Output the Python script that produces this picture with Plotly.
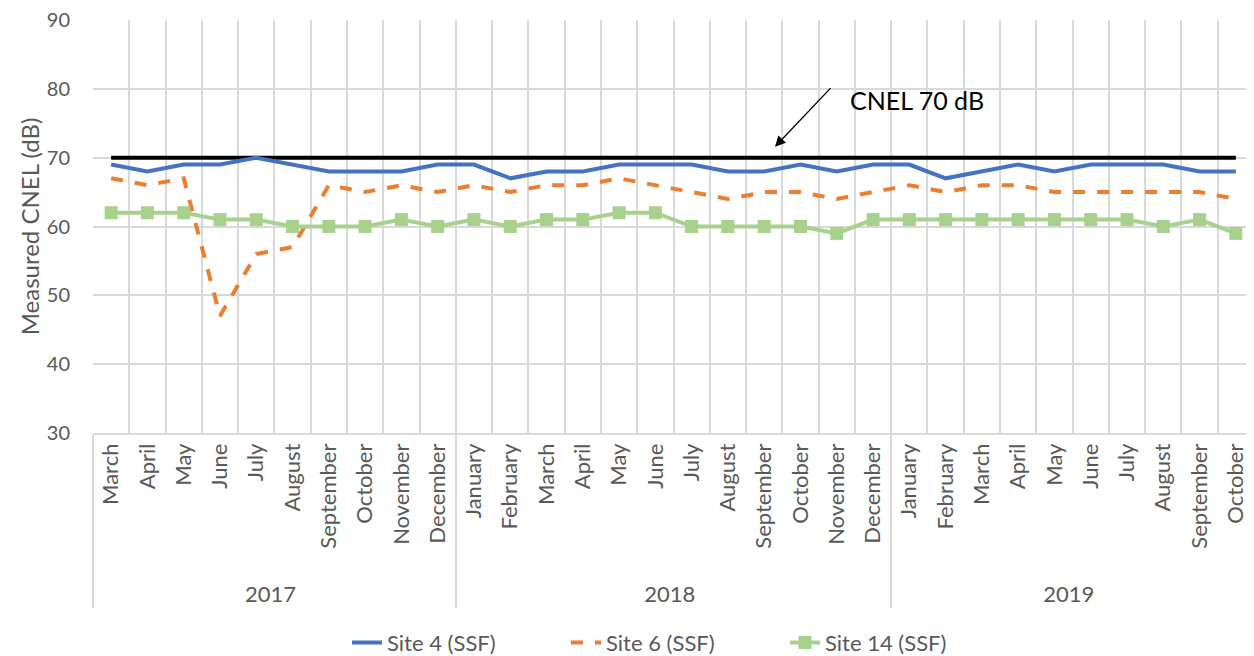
import plotly.graph_objects as go

years = ["2017"] * 10 + ["2018"] * 12 + ["2019"] * 10
months = ["March", "April", "May", "June", "July", "August", "September", "October", "November", "December",
          "January", "February", "March", "April", "May", "June", "July", "August", "September", "October", "November", "December",
          "January", "February", "March", "April", "May", "June", "July", "August", "September", "October"]

site4 = [69, 68, 69, 69, 70, 69, 68, 68, 68, 69,
         69, 67, 68, 68, 69, 69, 69, 68, 68, 69, 68, 69,
         69, 67, 68, 69, 68, 69, 69, 69, 68, 68]
site6 = [67, 66, 67, 47, 56, 57, 66, 65, 66, 65,
         66, 65, 66, 66, 67, 66, 65, 64, 65, 65, 64, 65,
         66, 65, 66, 66, 65, 65, 65, 65, 65, 64]
site14 = [62, 62, 62, 61, 61, 60, 60, 60, 61, 60,
          61, 60, 61, 61, 62, 62, 60, 60, 60, 60, 59, 61,
          61, 61, 61, 61, 61, 61, 61, 60, 61, 59]
cnel = [70] * 32

# make inner labels unique per year (zero-width spaces) so the category order is kept;
# leading no-break spaces leave extra room before the year row
yr_index = {y: i for i, y in enumerate(dict.fromkeys(years))}
month_labels = ["\u00a0\u00a0" + m + "\u200b" * yr_index[y] for y, m in zip(years, months)]
x = [years, month_labels]

FONT = "Lato"
GREY = "#595959"
# page body has an 8px default margin, so the figure is offset by 8px
W, H = 1246, 656
L, T, B = 85, 12, 229
PW = W - L

fig = go.Figure()
fig.add_trace(go.Scatter(x=x, y=cnel, mode="lines", line=dict(color="black", width=4), showlegend=False, hoverinfo="skip"))
fig.add_trace(go.Scatter(x=x, y=site4, mode="lines", name="Site 4 (SSF)", line=dict(color="#4472C4", width=4)))
fig.add_trace(go.Scatter(x=x, y=site6, mode="lines", name="Site 6 (SSF)", line=dict(color="#ED7D31", width=4, dash="dash")))
fig.add_trace(go.Scatter(x=x, y=site14, mode="lines+markers", name="Site 14 (SSF)",
                         line=dict(color="#A9D18E", width=4), marker=dict(symbol="square", size=13, color="#A9D18E")))

fig.add_annotation(xref="paper", yref="y", x=(775 - 93) / PW, y=71.6, ax=57, ay=-60,
                   text="", showarrow=True, arrowhead=2, arrowsize=1.6, arrowwidth=1.3, arrowcolor="black")
fig.add_annotation(xref="paper", yref="y", x=(917 - 93) / PW, y=78.4, xanchor="center", yanchor="middle",
                   text="CNEL 70 dB", showarrow=False,
                   font=dict(family=FONT, size=25, color="black"))

fig.update_layout(
    width=W, height=H,
    margin=dict(l=L, r=0, t=T, b=B),
    plot_bgcolor="white", paper_bgcolor="white",
    font=dict(family=FONT, color=GREY, size=18),
    legend=dict(orientation="h", x=(347 - 93) / PW, xref="paper", xanchor="left", y=-0.508, yanchor="middle",
                font=dict(size=22, color=GREY), entrywidth=174, entrywidthmode="pixels"),
    xaxis=dict(type="multicategory", range=[-0.5, 31.5], tickangle=-90, showgrid=True, gridcolor="#d9d9d9", gridwidth=1.5,
               showline=True, linecolor="#d9d9d9", linewidth=1.5, ticks="", showdividers=True,
               dividercolor="#d9d9d9", dividerwidth=1.5, tickfont=dict(size=22, color=GREY),
               automargin=False),
    yaxis=dict(range=[30, 90], dtick=10, showgrid=True, gridcolor="#d9d9d9", gridwidth=1.5,
               zeroline=False, showline=False, ticks="", tickfont=dict(size=20, color=GREY),
               ticklabelstandoff=22, ticklabeloverflow="allow", automargin=False,
               title=dict(text="Measured CNEL (dB)", font=dict(size=24, color=GREY), standoff=0)),
)
fig.write_html("out.html")
